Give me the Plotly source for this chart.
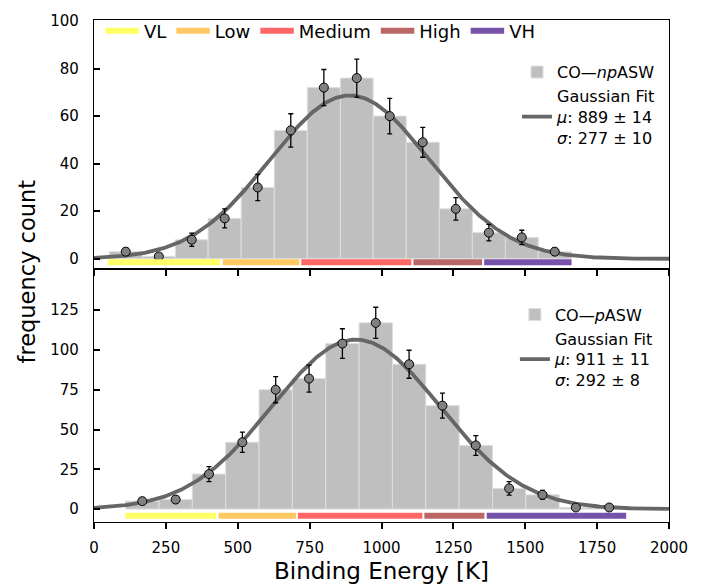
import numpy as np
import plotly.graph_objects as go

# ---------------- data ----------------
x_ticks = [0, 250, 500, 750, 1000, 1250, 1500, 1750, 2000]
y_ticks_top = [0, 20, 40, 60, 80, 100]
y_ticks_bot = [0, 25, 50, 75, 100, 125]

# CO—npASW (top panel)
np_edges = [53, 168, 283, 397, 512, 627, 742, 857, 971, 1086, 1201, 1316, 1431, 1545, 1660]
np_counts = [3, 1, 8, 17, 30, 54, 72, 76, 60, 49, 21, 11, 9, 3]
np_errors = [1.5, 1, 2.8, 4, 5.5, 7, 7.6, 8, 7.5, 6.3, 4.7, 3.5, 3, 1.5]
np_fit = dict(amp=68.7, mu=889, sigma=277, dmu=14, dsigma=10)

# CO—pASW (bottom panel)
p_edges = [110, 226, 342, 458, 574, 690, 806, 922, 1038, 1154, 1270, 1386, 1502, 1618, 1734, 1850]
p_counts = [5, 6, 22, 42, 75, 82, 104, 117, 91, 65, 40, 13, 9, 1, 1]
p_errors = [2, 2.4, 4.7, 6.4, 8.2, 8.5, 9.3, 9.8, 8.8, 7.9, 6.2, 4.2, 2.8, 1, 1]
p_fit = dict(amp=106.5, mu=911, sigma=292, dmu=11, dsigma=8)

# binding-energy category ranges [start, end]
categories = ["VL", "Low", "Medium", "High", "VH"]
cat_colors = ["#ffff66", "#ffc864", "#ff6666", "#ba6666", "#7752aa"]
np_ranges = [[48, 438], [448, 714], [721, 1104], [1111, 1350], [1357, 1661]]
p_ranges = [[109, 425], [433, 703], [709, 1142], [1149, 1358], [1366, 1851]]

# ---------------- style constants ----------------
FONT = "DejaVu Sans"
BAR_FILL = "#bfbfbf"
BAR_EDGE = "#dedede"
FIT_COLOR = "#666666"
PT_COLOR = "#808080"
RANGE_Y_TOP = -1.4
RANGE_Y_BOT = -4.2

fig = go.Figure()


def add_panel(edges, counts, errors, fit, ranges, label, xa, ya, legend, show_cat_legend):
    edges = np.asarray(edges, dtype=float)
    centers = (edges[:-1] + edges[1:]) / 2
    widths = np.diff(edges)
    fig.add_trace(go.Bar(
        x=centers, y=counts, width=widths,
        marker=dict(color=BAR_FILL, line=dict(color=BAR_EDGE, width=1)),
        name=label, xaxis=xa, yaxis=ya, legend=legend, showlegend=True,
    ))
    xs = np.linspace(0, 2000, 500)
    ys = fit["amp"] * np.exp(-(xs - fit["mu"]) ** 2 / (2 * fit["sigma"] ** 2))
    fit_name = ("Gaussian Fit<br><i>μ</i>: %d ± %d<br><i>σ</i>: %d ± %d"
                % (fit["mu"], fit["dmu"], fit["sigma"], fit["dsigma"]))
    fig.add_trace(go.Scatter(
        x=xs, y=ys, mode="lines", line=dict(color=FIT_COLOR, width=3.8),
        name=fit_name, xaxis=xa, yaxis=ya, legend=legend, showlegend=True,
    ))
    fig.add_trace(go.Scatter(
        x=centers, y=counts, mode="markers",
        marker=dict(color=PT_COLOR, size=9, line=dict(color="black", width=1)),
        error_y=dict(type="data", array=errors, color="black", thickness=1.3, width=2.5),
        xaxis=xa, yaxis=ya, showlegend=False,
    ))
    ry = RANGE_Y_TOP if ya == "y" else RANGE_Y_BOT
    for cat, col, (a, b) in zip(categories, cat_colors, ranges):
        fig.add_trace(go.Scatter(
            x=[a, b], y=[ry, ry], mode="lines",
            line=dict(color=col, width=6),
            name=cat, xaxis=xa, yaxis=ya, legend="legend",
            showlegend=show_cat_legend,
        ))


add_panel(np_edges, np_counts, np_errors, np_fit, np_ranges,
          "CO—<i>np</i>ASW", "x", "y", "legend2", True)
add_panel(p_edges, p_counts, p_errors, p_fit, p_ranges,
          "CO—<i>p</i>ASW", "x2", "y2", "legend3", False)

axis_common = dict(
    showline=True, linecolor="black", linewidth=1.3, mirror=True,
    showgrid=False, zeroline=False, tickcolor="black", tickwidth=1.5,
    tickfont=dict(family=FONT, size=15, color="black"),
)

fig.update_layout(
    width=706, height=587,
    margin=dict(l=94, r=37, t=16.5, b=65),
    paper_bgcolor="white", plot_bgcolor="white",
    font=dict(family=FONT, color="black"),
    barmode="overlay",
    xaxis=dict(domain=[0, 1], anchor="y", range=[0, 2000], tickvals=x_ticks,
               showticklabels=False, ticks="outside", ticklen=6, **axis_common),
    yaxis=dict(domain=[0.5045, 1], anchor="x", range=[-4.18, 100.42], tickvals=y_ticks_top,
               ticks="inside", ticklen=6, ticklabelstandoff=11, **axis_common),
    xaxis2=dict(domain=[0, 1], anchor="y2", range=[0, 2000], tickvals=x_ticks,
                ticks="outside", ticklen=6, ticklabelstandoff=6, **axis_common),
    yaxis2=dict(domain=[0, 0.5045], anchor="x2", range=[-8.11, 151.0], tickvals=y_ticks_bot,
                ticks="inside", ticklen=6, ticklabelstandoff=11, **axis_common),
    legend=dict(orientation="h", x=0.0113, y=1.015, xanchor="left", yanchor="top",
                font=dict(family=FONT, size=18, color="black"), bgcolor="rgba(0,0,0,0)",
                traceorder="normal", itemwidth=33.5),
    legend2=dict(x=0.7357, y=0.930, xanchor="left", yanchor="top",
                 font=dict(family=FONT, size=16, color="black"), bgcolor="rgba(0,0,0,0)",
                 traceorder="normal", tracegroupgap=0),
    legend3=dict(x=0.732, y=0.447, xanchor="left", yanchor="top",
                 font=dict(family=FONT, size=16, color="black"), bgcolor="rgba(0,0,0,0)",
                 traceorder="normal", tracegroupgap=0),
    annotations=[
        dict(text="frequency count", xref="paper", yref="paper", x=-0.1157, y=0.5,
             xanchor="center", yanchor="middle", textangle=-90, showarrow=False,
             font=dict(family=FONT, size=22.5, color="black")),
        dict(text="Binding Energy [K]", xref="paper", yref="paper", x=0.5, y=-0.0969,
             xanchor="center", yanchor="middle", showarrow=False,
             font=dict(family=FONT, size=23, color="black")),
    ],
)

fig.write_html("out.html", config={"displayModeBar": False},
               post_script="document.body.style.margin='0';document.body.style.padding='0';")
